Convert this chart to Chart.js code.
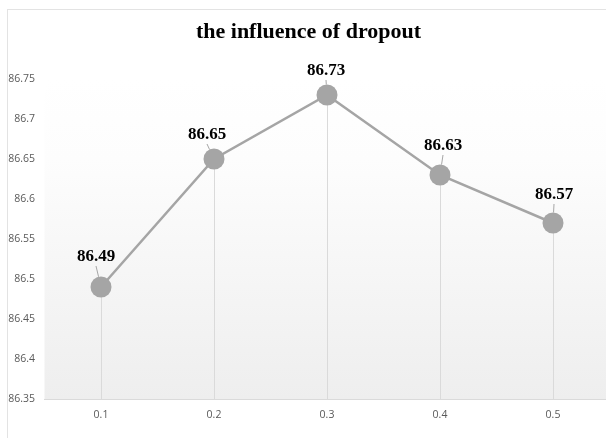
<!DOCTYPE html>
<html>
<head>
<meta charset="utf-8">
<script src="https://cdn.jsdelivr.net/npm/chart.js@4/dist/chart.umd.min.js"></script>
<style>
  html, body { margin: 0; padding: 0; background: #ffffff; overflow: hidden; width: 606px; height: 438px; }
  #wrap { position: relative; width: 620px; height: 438px; }
  canvas { display: block; }
</style>
</head>
<body>
<div id="wrap"><canvas id="chart" width="620" height="438"></canvas></div>
<script>
// Dropout rate vs. accuracy
const dropoutRates = ['0.1', '0.2', '0.3', '0.4', '0.5'];
const accuracy = [86.49, 86.65, 86.73, 86.63, 86.57];
const yTickValues = [86.35, 86.4, 86.45, 86.5, 86.55, 86.6, 86.65, 86.7, 86.75];
const chartTitle = 'the influence of dropout';

// Where each value label sits relative to its marker [dx, dy]
const labelOffsets = [[-5, -30], [-7, -24], [-1, -24], [3, -29], [1, -28]];

const MARK = '#a5a5a5';

// Outer frame + graded plot background
const backdrop = {
  id: 'backdrop',
  beforeDraw(chart) {
    const { ctx, chartArea: a } = chart;
    ctx.save();
    ctx.fillStyle = '#ffffff';
    ctx.fillRect(0, 0, chart.width, chart.height);
    ctx.strokeStyle = '#e3e3e3';
    ctx.lineWidth = 1;
    ctx.strokeRect(7.5, 9.5, 800, 600);
    const g = ctx.createLinearGradient(0, a.top, 0, a.bottom);
    g.addColorStop(0, '#ffffff');
    g.addColorStop(0.25, '#fdfdfd');
    g.addColorStop(1, '#eeeeee');
    ctx.fillStyle = g;
    ctx.fillRect(a.left, a.top, a.right - a.left, a.bottom - a.top);
    ctx.restore();
  }
};

// Vertical drop lines from each marker to the axis
const dropLines = {
  id: 'dropLines',
  beforeDatasetsDraw(chart) {
    const { ctx, chartArea: a } = chart;
    const meta = chart.getDatasetMeta(0);
    ctx.save();
    ctx.strokeStyle = '#dadada';
    ctx.lineWidth = 1;
    meta.data.forEach(pt => {
      const x = Math.round(pt.x) + 0.5;
      ctx.beginPath();
      ctx.moveTo(x, pt.y);
      ctx.lineTo(x, a.bottom);
      ctx.stroke();
    });
    ctx.restore();
  }
};

// Value labels with short leader lines
const valueLabels = {
  id: 'valueLabels',
  afterDatasetsDraw(chart) {
    const { ctx } = chart;
    const meta = chart.getDatasetMeta(0);
    const values = chart.data.datasets[0].data;
    const r = chart.data.datasets[0].pointRadius;
    ctx.save();
    meta.data.forEach((pt, i) => {
      const [dx, dy] = labelOffsets[i];
      const lx = pt.x + dx, ly = pt.y + dy;
      // leader line
      const sx = lx, sy = ly + 9;
      const vx = sx - pt.x, vy = sy - pt.y;
      const d = Math.hypot(vx, vy);
      if (d > r + 2) {
        ctx.strokeStyle = '#a6a6a6';
        ctx.lineWidth = 1;
        ctx.beginPath();
        ctx.moveTo(sx, sy);
        ctx.lineTo(pt.x + vx / d * r, pt.y + vy / d * r);
        ctx.stroke();
      }
      ctx.fillStyle = '#000000';
      ctx.font = 'bold 17px "Liberation Serif", "Times New Roman", serif';
      ctx.textAlign = 'center';
      ctx.textBaseline = 'middle';
      ctx.fillText(values[i].toFixed(2), lx, ly);
    });
    ctx.restore();
  }
};

// Chart heading
const heading = {
  id: 'heading',
  afterDraw(chart) {
    const { ctx } = chart;
    ctx.save();
    ctx.fillStyle = '#000000';
    ctx.font = 'bold 22px "Liberation Serif", "Times New Roman", serif';
    ctx.textAlign = 'center';
    ctx.textBaseline = 'alphabetic';
    ctx.fillText(chartTitle, 308.5, 38);
    ctx.restore();
  }
};

new Chart(document.getElementById('chart'), {
  type: 'line',
  data: {
    labels: dropoutRates,
    datasets: [{
      data: accuracy,
      borderColor: MARK,
      borderWidth: 2.5,
      backgroundColor: MARK,
      pointBackgroundColor: MARK,
      pointBorderWidth: 0,
      pointRadius: 10.5,
      pointHoverRadius: 10.5,
      tension: 0,
      fill: false,
      clip: false
    }]
  },
  options: {
    responsive: false,
    animation: false,
    devicePixelRatio: 1,
    layout: { padding: { left: 0, right: 10.5, top: 79, bottom: 0 } },
    plugins: {
      legend: { display: false },
      tooltip: { enabled: false },
      title: { display: false }
    },
    scales: {
      x: {
        offset: true,
        grid: { display: false, drawTicks: false },
        border: { display: true, color: '#dadada', width: 1 },
        ticks: {
          color: '#595959',
          padding: 10,
          font: { family: '"Open Sans", "Liberation Sans", sans-serif', size: 10.5 }
        },
        afterFit(scale) { scale.height = 39; }
      },
      y: {
        min: yTickValues[0],
        max: yTickValues[yTickValues.length - 1],
        grid: { display: false, drawTicks: false },
        border: { display: false },
        afterBuildTicks(scale) { scale.ticks = yTickValues.map(v => ({ value: v })); },
        ticks: {
          color: '#595959',
          padding: 9.5,
          font: { family: '"Open Sans", "Liberation Sans", sans-serif', size: 10.5 },
          callback: v => String(+Number(v).toFixed(2))
        },
        afterFit(scale) { scale.width = 44.5; }
      }
    }
  },
  plugins: [backdrop, dropLines, valueLabels, heading]
});
</script>
</body>
</html>
